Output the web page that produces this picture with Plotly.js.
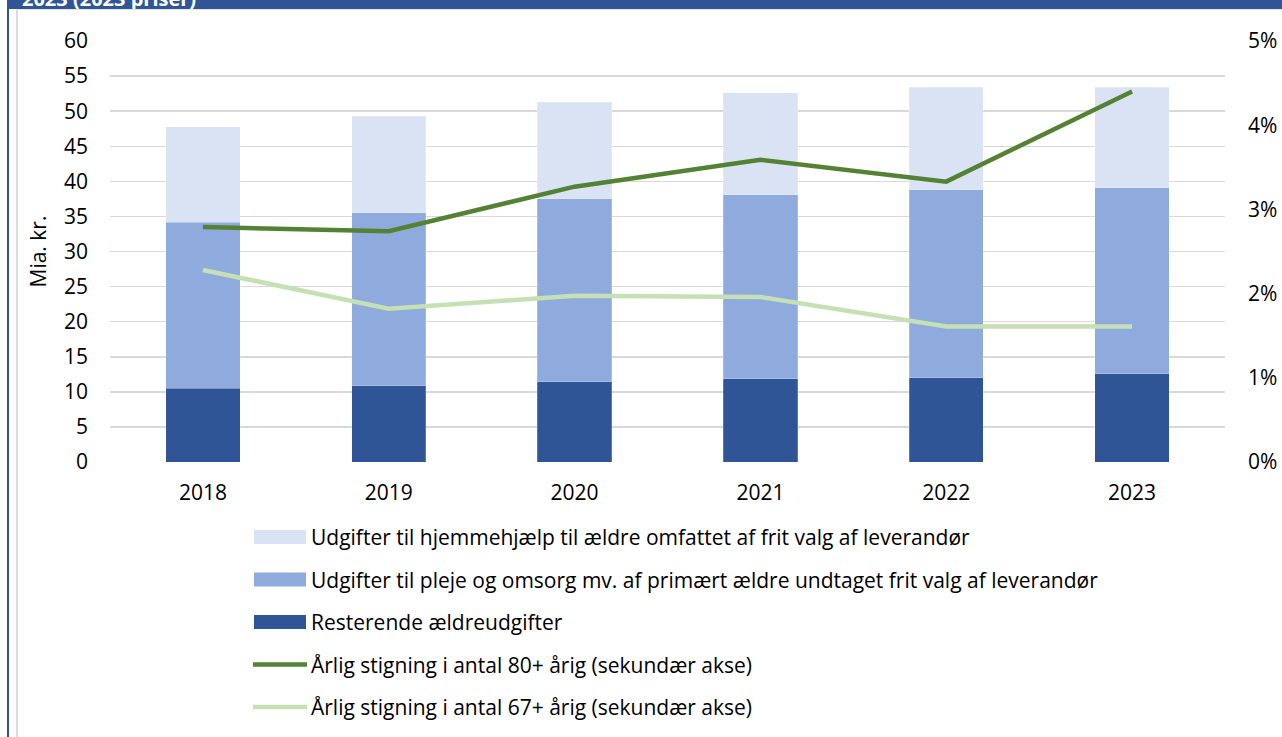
<!DOCTYPE html>
<html>
<head>
<meta charset="utf-8">
<script src="https://cdn.plot.ly/plotly-3.0.1.min.js"></script>
<style>
  html, body { margin: 0; padding: 0; background: #fff; }
  #wrap { position: relative; width: 1282px; height: 737px; overflow: hidden; }
  #chart { position: absolute; left: 0; top: 0; width: 1282px; height: 737px; }
  #band { position: absolute; left: 7px; top: 0; width: 1275px; height: 9px; background: #2F5597; overflow: hidden; z-index: 2; }
  #band span { position: absolute; left: 15px; top: -15px; color: #fff; font: bold 20px "Open Sans", "Liberation Sans", sans-serif; white-space: nowrap; }
  #lborder { position: absolute; left: 7px; top: 0; width: 2px; height: 737px; background: #2F5597; z-index: 2; }
  #iborder { position: absolute; left: 16px; top: 9px; width: 2px; height: 728px; background: #DCDCDC; z-index: 2; }
  #tborder { position: absolute; left: 16px; top: 9px; width: 1266px; height: 1px; background: #E4E4E4; z-index: 2; }
</style>
</head>
<body>
<div id="wrap">
  <div id="chart"></div>
  <div id="band"><span>2023 (2023 priser)</span></div>
  <div id="lborder"></div>
  <div id="iborder"></div>
  <div id="tborder"></div>
</div>
<script>
// ---- data ----
const years = ['2018', '2019', '2020', '2021', '2022', '2023'];
const resterende = [10.5, 10.9, 11.45, 11.9, 12.0, 12.6];          // dark bars (Mia. kr.)
const plejeTop = [34.2, 35.5, 37.5, 38.1, 38.8, 39.1];              // top of middle segment
const totalTop = [47.8, 49.3, 51.3, 52.6, 53.4, 53.4];              // top of light segment
const stigning80 = [0.0279, 0.0274, 0.0327, 0.0359, 0.0333, 0.0440];
const stigning67 = [0.0228, 0.0182, 0.01975, 0.0196, 0.0161, 0.0161];
const seriesNames = [
  'Udgifter til hjemmehjælp til ældre omfattet af frit valg af leverandør',
  'Udgifter til pleje og omsorg mv. af primært ældre undtaget frit valg af leverandør',
  'Resterende ældreudgifter',
  'Årlig stigning i antal 80+ årig (sekundær akse)',
  'Årlig stigning i antal 67+ årig (sekundær akse)'
];
const leftTicks = [0, 5, 10, 15, 20, 25, 30, 35, 40, 45, 50, 55, 60];
const rightTicks = [0, 0.01, 0.02, 0.03, 0.04, 0.05];

const pleje = plejeTop.map((v, i) => +(v - resterende[i]).toFixed(2));
const hjemme = totalTop.map((v, i) => +(v - plejeTop[i]).toFixed(2));

const cLight = '#DAE3F3', cMid = '#8FAADC', cDark = '#2F5597';
const gDark = '#548235', gLight = '#C5E0B4';
const FONT = '"Open Sans", Lato, "Liberation Sans", sans-serif';
const TICK = 21;
const LEG = 21;

const barLine = { color: 'rgba(255,255,255,0.35)', width: 0.6 };
const traces = [
  { type: 'bar', x: years, y: resterende, name: seriesNames[2], marker: { color: cDark, line: barLine }, hoverinfo: 'y' },
  { type: 'bar', x: years, y: pleje, name: seriesNames[1], marker: { color: cMid, line: barLine }, hoverinfo: 'y' },
  { type: 'bar', x: years, y: hjemme, name: seriesNames[0], marker: { color: cLight, line: barLine }, hoverinfo: 'y' },
  { type: 'scatter', mode: 'lines', x: years, y: stigning67, yaxis: 'y2', name: seriesNames[4], line: { color: gLight, width: 4.5 } },
  { type: 'scatter', mode: 'lines', x: years, y: stigning80, yaxis: 'y2', name: seriesNames[3], line: { color: gDark, width: 4.5 } }
];

// custom legend (swatches + labels), order as in the reference
const legendOrder = [
  { name: seriesNames[0], kind: 'rect', color: cLight },
  { name: seriesNames[1], kind: 'rect', color: cMid },
  { name: seriesNames[2], kind: 'rect', color: cDark },
  { name: seriesNames[3], kind: 'line', color: gDark },
  { name: seriesNames[4], kind: 'line', color: gLight }
];
const H = 737, W = 1282;
const mL = 110, mR = 57, mT = 41, mB = 275;
const pw = W - mL - mR, ph = H - mT - mB;
const px2x = p => (p - mL) / pw;
const py2y = p => (H - mB - p) / ph;
const shapes = [], annotations = [];
legendOrder.forEach((it, i) => {
  const yc = 537 + i * 42.5;
  if (it.kind === 'rect') {
    shapes.push({ type: 'rect', xref: 'paper', yref: 'paper', x0: px2x(254), x1: px2x(306), y0: py2y(yc + 7), y1: py2y(yc - 7), fillcolor: it.color, line: { width: 0 } });
  } else {
    shapes.push({ type: 'line', xref: 'paper', yref: 'paper', x0: px2x(253), x1: px2x(307), y0: py2y(yc), y1: py2y(yc), line: { color: it.color, width: 4.5 } });
  }
  annotations.push({ xref: 'paper', yref: 'paper', x: px2x(309), y: py2y(yc), xanchor: 'left', yanchor: 'middle', text: it.name, showarrow: false, font: { family: FONT, size: LEG, color: '#000' } });
});

const layout = {
  width: W, height: H,
  margin: { l: mL, r: mR, t: mT, b: mB, pad: 0 },
  paper_bgcolor: '#fff', plot_bgcolor: '#fff',
  barmode: 'stack', bargap: 0.6,
  showlegend: false,
  font: { family: FONT, size: TICK, color: '#000' },
  xaxis: { type: 'category', showgrid: false, zeroline: false, showline: false, ticks: '', ticklabelstandoff: 16, tickfont: { size: TICK } },
  yaxis: {
    range: [0, 60], tickvals: leftTicks, ticktext: leftTicks.map(String),
    showgrid: true, gridcolor: '#D9D9D9', gridwidth: 1.5, zeroline: false, showline: false, ticks: '',
    ticklabelstandoff: 21, tickfont: { size: TICK },
    title: { text: 'Mia. kr.', standoff: 11, font: { size: TICK } }
  },
  yaxis2: {
    overlaying: 'y', side: 'right', range: [0, 0.05], tickvals: rightTicks,
    ticktext: rightTicks.map(v => Math.round(v * 100) + '%'),
    showgrid: false, zeroline: false, showline: false, ticks: '', ticklabelstandoff: 22, tickfont: { size: TICK }
  },
  shapes: shapes,
  annotations: annotations
};

Plotly.newPlot('chart', traces, layout, { displayModeBar: false, staticPlot: true });
</script>
</body>
</html>
